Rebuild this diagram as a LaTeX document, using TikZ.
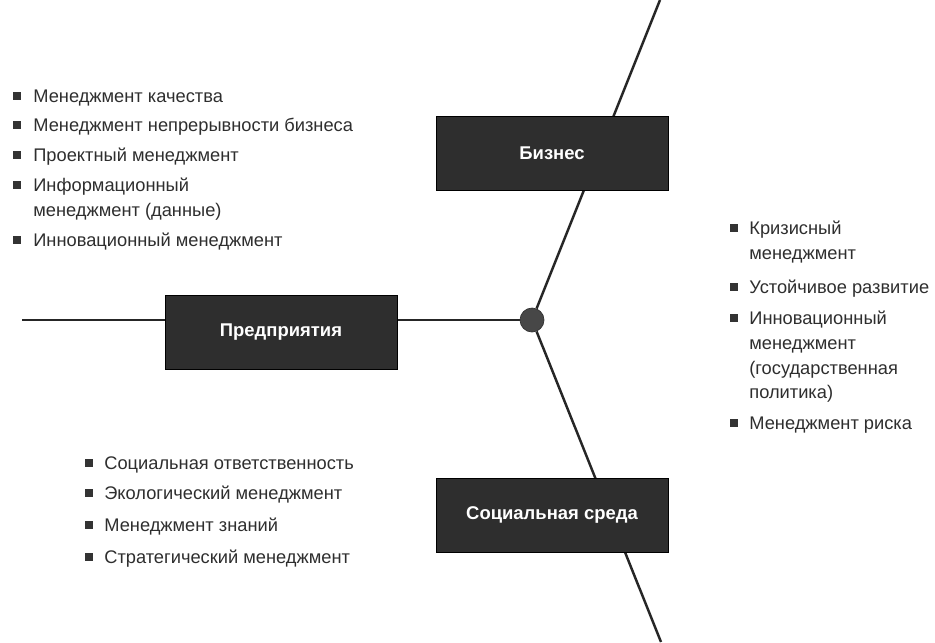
\documentclass[tikz,border=0pt]{standalone}
\usepackage{fontspec}
\setmainfont{Liberation Sans}
\usetikzlibrary{backgrounds}
\colorlet{sectorFill}{black!82}
\colorlet{branchLine}{black!85}
\colorlet{hubFill}{black!72}
\colorlet{itemText}{black!82}
\colorlet{bulletFill}{black!80}

\begin{document}
\begin{tikzpicture}[
  x=0.02cm,
  y=-0.02cm,
  sector/.style={
    draw=black,
    fill=sectorFill,
    minimum width=4.64cm,
    minimum height=1.48cm,
    inner sep=0pt,
    text=white,
    font=\bfseries\fontsize{10.5}{12}\selectfont
  },
  hub/.style={
    circle,
    draw=black!80,
    fill=hubFill,
    minimum size=0.48cm,
    inner sep=0pt
  },
  branch/.style={
    draw=branchLine,
    line width=1.4pt
  },
  item/.style={
    anchor=north west,
    yshift=6.1pt,
    inner sep=0pt,
    align=left,
    text=itemText,
    font=\fontsize{10.4}{14}\selectfont
  },
  bulletSq/.style={
    fill=bulletFill
  }
]
\useasboundingbox (0,0) rectangle (935,642);
\coordinate (leftEnd) at (22,320);
\coordinate (topEnd) at (660,0);
\coordinate (bottomEnd) at (661,642);
\node[hub] (hub) at (532,320) {};
\node[sector] (business) at (552,153.5) {Бизнес};
\node[sector] (enterprise) at (281,332) {Предприятия};
\node[sector] (society) at (552,515) {Социальная среда};
\begin{scope}[on background layer]
  \draw[branch] (leftEnd) -- (hub);
  \draw[branch] (hub) -- (topEnd);
  \draw[branch] (hub) -- (bottomEnd);
\end{scope}
\foreach[count=\i] \y/\t in {96/{Менеджмент качества},
    125/{Менеджмент непрерывности бизнеса},
    155/{Проектный менеджмент},
    185/{Информационный\\менеджмент (данные)},
    240/{Инновационный менеджмент}} {
  \fill[bulletSq] (17,\y) +(-4,-4) rectangle +(4,4);
  \node[item] (leftItem\i) at (33,\y) {\strut\t};
}
\foreach[count=\i] \y/\t in {228/{Кризисный\\менеджмент},
    287/{Устойчивое развитие},
    318/{Инновационный\\менеджмент\\(государственная\\политика)},
    423/{Менеджмент риска}} {
  \fill[bulletSq] (734,\y) +(-4,-4) rectangle +(4,4);
  \node[item] (rightItem\i) at (749,\y) {\strut\t};
}
\foreach[count=\i] \y/\t in {463/{Социальная ответственность},
    493/{Экологический менеджмент},
    525/{Менеджмент знаний},
    557/{Стратегический менеджмент}} {
  \fill[bulletSq] (89,\y) +(-4,-4) rectangle +(4,4);
  \node[item] (lowItem\i) at (104,\y) {\strut\t};
}
%\node[hub] at (533,320) {};
\end{tikzpicture}
\end{document}
